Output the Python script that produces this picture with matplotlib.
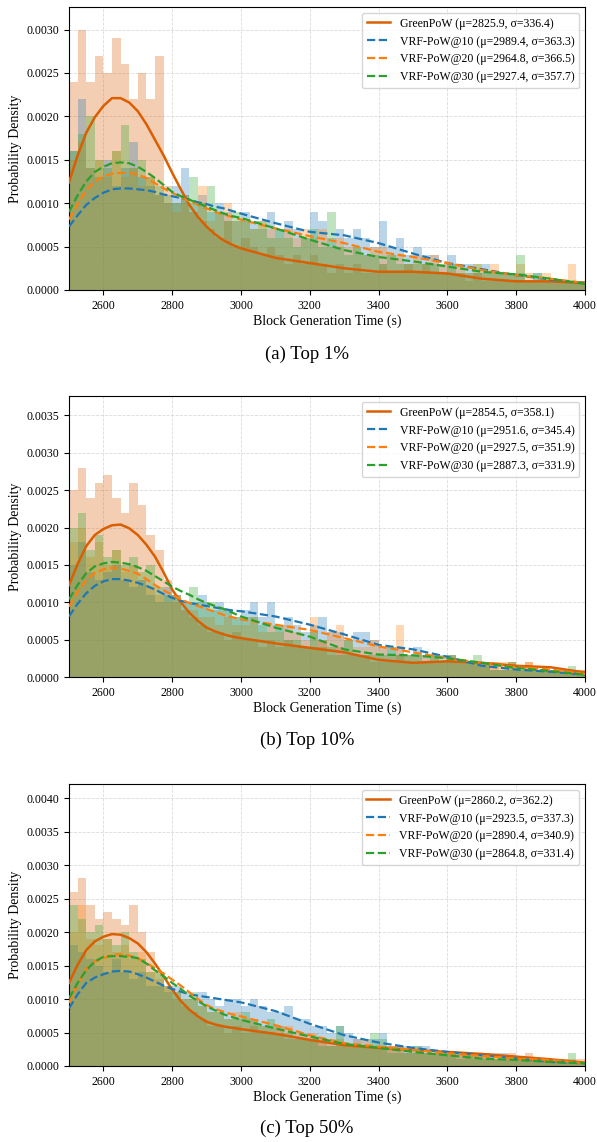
import matplotlib
matplotlib.use("Agg")
import matplotlib.pyplot as plt
import numpy as np

plt.rcParams["font.family"] = ["Liberation Serif", "DejaVu Serif"]
plt.rcParams["mathtext.fontset"] = "stix"

SERIES = ["GreenPoW", "VRF-PoW@10", "VRF-PoW@20", "VRF-PoW@30"]
COLORS = ["#d95f02", "#1f77b4", "#ff7f0e", "#2ca02c"]
CAPTIONS = ["(a) Top 1%", "(b) Top 10%", "(c) Top 50%"]

# histogram bins: 25 s wide, 2500..4000; heights in units of 1e-4
BIN_EDGES = list(range(2500, 4001, 25))

A_GREENPOW = [24, 30, 24, 27, 25, 29, 26, 22, 25, 22, 27,
              12, 10, 11, 9, 8, 7, 6, 8, 5,
              6, 5, 4, 5, 4, 3, 4, 3, 4, 3, 2, 3, 2, 3, 2, 2, 3, 2, 2, 3,
              2, 3, 2, 2, 2, 2, 1, 2, 1, 1, 1, 1, 1, 1, 1, 1, 1, 1, 1, 1]
A_VRF10 = [16, 22, 14, 13, 15, 12, 14, 17, 13, 12, 11,
           10, 12, 14, 10, 11, 9, 10, 9, 8,
           9, 8, 7, 9, 7, 8, 7, 6, 9, 8, 6, 7, 6, 7, 6, 5, 8, 5, 6, 4,
           5, 4, 4, 3, 4, 3, 3, 2, 3, 2, 2, 2, 2, 1, 2, 1, 1, 1, 1, 1]
A_VRF20 = [15, 17, 14, 15, 13, 16, 13, 14, 12, 13, 11,
           10, 9, 10, 9, 12, 8, 9, 10, 8,
           8, 7, 8, 7, 6, 7, 6, 7, 6, 7, 5, 6, 5, 5, 4, 5, 5, 4, 4, 3,
           4, 3, 4, 3, 3, 3, 2, 3, 2, 3, 2, 2, 3, 2, 1, 2, 1, 1, 3, 1]
A_VRF30 = [16, 18, 20, 15, 14, 16, 19, 14, 15, 13, 12,
           11, 10, 11, 13, 10, 12, 9, 8, 9,
           8, 7, 8, 6, 7, 6, 5, 6, 7, 5, 9, 5, 4, 5, 4, 4, 3, 4, 3, 3,
           3, 3, 3, 2, 3, 2, 2, 3, 2, 2, 2, 2, 4, 1, 2, 1, 1, 1, 1, 1]

B_GREENPOW = [25, 28, 24, 26, 27, 24, 22, 26, 23, 19, 17,
              13, 10, 9, 8, 7, 6, 6, 5, 6,
              5, 5, 4, 5, 4, 5, 4, 4, 4, 5, 3, 4, 3, 3, 3, 2, 2, 2, 3, 2,
              2, 2, 2, 2, 2, 2, 2, 2, 2, 2, 1, 2, 1, 2, 1, 1, 1, 1, 1, 1]
B_VRF10 = [15, 18, 14, 13, 14, 15, 13, 12, 13, 11, 10,
           12, 11, 10, 10, 11, 9, 10, 9, 8,
           9, 10, 8, 10, 7, 8, 7, 6, 7, 8, 6, 6, 5, 6, 6, 5, 4, 4, 4, 3,
           4, 3, 3, 3, 3, 2, 2, 2, 2, 1, 1, 1, 1, 1, 1, 1, 1, 0.5, 1, 0.5]
B_VRF20 = [18, 20, 16, 18, 15, 17, 14, 15, 13, 12, 11,
           10, 11, 9, 9, 8, 8, 7, 8, 7,
           7, 8, 6, 7, 6, 7, 6, 5, 8, 5, 6, 7, 5, 4, 4, 5, 4, 3, 7, 3,
           3, 3, 3, 2, 3, 2, 2, 2, 2, 2, 2, 2, 1, 2, 1, 1, 1, 1, 1, 1]
B_VRF30 = [20, 22, 17, 19, 16, 17, 15, 16, 14, 15, 12,
           11, 11, 10, 12, 10, 10, 9, 9, 8,
           8, 8, 7, 6, 7, 5, 5, 4, 6, 4, 4, 3, 5, 3, 3, 3, 3, 4, 3, 3,
           3, 2, 3, 2, 3, 2, 2, 3, 2, 1, 1, 2, 1, 1, 1, 1, 1, 0.5, 1.5, 0.5]

C_GREENPOW = [26, 28, 24, 22, 23, 22, 21, 24, 20, 17, 14,
              12, 10, 9, 8, 7, 6, 6, 5, 6,
              5, 6, 5, 5, 6, 4, 4, 4, 4, 4, 3, 3, 3, 4, 3, 3, 3, 3, 3, 2,
              2, 2, 2, 2, 2, 2, 2, 2, 2, 2, 1, 2, 1, 2, 1, 1, 1, 1, 1, 1]
C_VRF10 = [18, 17, 16, 15, 14, 16, 14, 13, 14, 12, 12,
           11, 12, 11, 10, 11, 10, 9, 10, 10,
           9, 10, 9, 8, 8, 9, 7, 7, 6, 6, 5, 6, 5, 4, 4, 4, 5, 3, 3, 3,
           3, 3, 2, 2, 2, 2, 2, 2, 2, 1, 2, 1, 1, 1, 1, 1, 1, 0.5, 0.5, 0.5]
C_VRF20 = [20, 24, 19, 18, 19, 17, 18, 16, 17, 14, 13,
           12, 11, 10, 10, 9, 8, 8, 7, 8,
           7, 7, 6, 6, 6, 6, 5, 5, 5, 4, 4, 4, 3, 3, 4, 3, 3, 3, 3, 2,
           2, 2, 2, 2, 2, 2, 2, 2, 2, 1, 1, 1, 1, 1, 1, 1, 1, 1, 0.5, 0.5]
C_VRF30 = [24, 22, 20, 21, 19, 18, 20, 17, 16, 14, 14,
           12, 11, 10, 11, 9, 8, 8, 7, 7,
           8, 7, 6, 7, 5, 5, 4, 4, 4, 3, 3, 6, 3, 3, 3, 5, 4, 2, 2, 2,
           3, 2, 2, 2, 2, 1, 2, 1, 1, 1, 1, 1, 1, 1, 1, 1, 1, 0.5, 2, 0.5]

# KDE curves (units of 1e-3): 25 s steps to 3000, then 100 s
KDE_X = [2500, 2525, 2550, 2575, 2600, 2625, 2650, 2675, 2700, 2725, 2750,
         2775, 2800, 2825, 2850, 2875, 2900, 2925, 2950, 2975, 3000,
         3100, 3200, 3300, 3400, 3500, 3600, 3700, 3800, 3900, 4000]

A_KDE_GREENPOW = [1.24, 1.55, 1.81, 1.99, 2.12, 2.21, 2.21, 2.16, 2.06, 1.91, 1.73,
                  1.55, 1.35, 1.16, 0.98, 0.84, 0.73, 0.64, 0.57, 0.52, 0.48,
                  0.37, 0.31, 0.25, 0.21, 0.21, 0.19, 0.13, 0.10, 0.10, 0.08]
A_KDE_VRF10 = [0.73, 0.86, 0.98, 1.06, 1.12, 1.16, 1.17, 1.17, 1.16, 1.15, 1.13,
               1.10, 1.08, 1.06, 1.04, 1.01, 0.99, 0.96, 0.94, 0.91, 0.88,
               0.77, 0.67, 0.63, 0.54, 0.42, 0.31, 0.24, 0.17, 0.12, 0.08]
A_KDE_VRF20 = [0.81, 0.99, 1.15, 1.25, 1.31, 1.34, 1.35, 1.35, 1.33, 1.29, 1.23,
               1.17, 1.12, 1.07, 1.02, 0.98, 0.94, 0.90, 0.87, 0.84, 0.81,
               0.71, 0.62, 0.54, 0.44, 0.38, 0.31, 0.23, 0.17, 0.13, 0.08]
A_KDE_VRF30 = [0.90, 1.09, 1.25, 1.36, 1.42, 1.46, 1.47, 1.46, 1.42, 1.36, 1.29,
               1.21, 1.13, 1.08, 1.04, 1.00, 0.96, 0.92, 0.88, 0.85, 0.83,
               0.71, 0.58, 0.46, 0.38, 0.33, 0.27, 0.21, 0.18, 0.13, 0.07]

B_KDE_GREENPOW = [1.23, 1.51, 1.75, 1.90, 1.98, 2.03, 2.04, 1.99, 1.90, 1.77, 1.61,
                  1.40, 1.17, 1.00, 0.86, 0.75, 0.66, 0.61, 0.57, 0.54, 0.52,
                  0.45, 0.39, 0.33, 0.23, 0.19, 0.21, 0.19, 0.15, 0.13, 0.06]
B_KDE_VRF10 = [0.81, 0.98, 1.12, 1.22, 1.28, 1.31, 1.31, 1.29, 1.26, 1.22, 1.17,
               1.11, 1.06, 1.02, 0.99, 0.97, 0.95, 0.93, 0.91, 0.89, 0.88,
               0.81, 0.70, 0.57, 0.43, 0.37, 0.27, 0.15, 0.10, 0.07, 0.03]
B_KDE_VRF20 = [0.94, 1.14, 1.30, 1.39, 1.44, 1.46, 1.45, 1.42, 1.38, 1.31, 1.23,
               1.16, 1.10, 1.04, 0.99, 0.95, 0.91, 0.87, 0.83, 0.80, 0.77,
               0.70, 0.63, 0.52, 0.41, 0.33, 0.25, 0.19, 0.13, 0.10, 0.04]
B_KDE_VRF30 = [1.04, 1.23, 1.39, 1.48, 1.52, 1.54, 1.53, 1.51, 1.47, 1.42, 1.35,
               1.28, 1.21, 1.15, 1.10, 1.04, 0.99, 0.95, 0.91, 0.86, 0.81,
               0.66, 0.54, 0.37, 0.30, 0.29, 0.25, 0.19, 0.12, 0.08, 0.03]

C_KDE_GREENPOW = [1.24, 1.51, 1.73, 1.86, 1.93, 1.97, 1.96, 1.91, 1.83, 1.70, 1.53,
                  1.34, 1.14, 0.97, 0.84, 0.74, 0.66, 0.62, 0.59, 0.57, 0.55,
                  0.48, 0.39, 0.31, 0.27, 0.24, 0.21, 0.18, 0.14, 0.10, 0.05]
C_KDE_VRF10 = [0.86, 1.07, 1.24, 1.32, 1.37, 1.41, 1.42, 1.41, 1.37, 1.32, 1.26,
               1.20, 1.15, 1.11, 1.07, 1.05, 1.03, 1.01, 0.99, 0.97, 0.95,
               0.82, 0.63, 0.46, 0.35, 0.27, 0.21, 0.16, 0.11, 0.06, 0.04]
C_KDE_VRF20 = [0.94, 1.22, 1.45, 1.56, 1.61, 1.66, 1.67, 1.65, 1.61, 1.54, 1.46,
               1.38, 1.29, 1.20, 1.10, 1.00, 0.91, 0.85, 0.81, 0.77, 0.74,
               0.61, 0.46, 0.34, 0.29, 0.24, 0.19, 0.15, 0.11, 0.09, 0.04]
C_KDE_VRF30 = [1.01, 1.24, 1.43, 1.56, 1.63, 1.64, 1.64, 1.63, 1.61, 1.53, 1.43,
               1.34, 1.24, 1.15, 1.05, 0.97, 0.89, 0.83, 0.77, 0.73, 0.69,
               0.56, 0.44, 0.33, 0.27, 0.21, 0.16, 0.11, 0.09, 0.06, 0.04]

# (mean, std) shown in the legends
A_STATS = [(2825.9, 336.4), (2989.4, 363.3), (2964.8, 366.5), (2927.4, 357.7)]
B_STATS = [(2854.5, 358.1), (2951.6, 345.4), (2927.5, 351.9), (2887.3, 331.9)]
C_STATS = [(2860.2, 362.2), (2923.5, 337.3), (2890.4, 340.9), (2864.8, 331.4)]

Y_MAX = [0.00326, 0.00376, 0.00421]
Y_TICK_TOP = [0.0030, 0.0035, 0.0040]

PANELS = [
    ([A_GREENPOW, A_VRF10, A_VRF20, A_VRF30],
     [A_KDE_GREENPOW, A_KDE_VRF10, A_KDE_VRF20, A_KDE_VRF30], A_STATS),
    ([B_GREENPOW, B_VRF10, B_VRF20, B_VRF30],
     [B_KDE_GREENPOW, B_KDE_VRF10, B_KDE_VRF20, B_KDE_VRF30], B_STATS),
    ([C_GREENPOW, C_VRF10, C_VRF20, C_VRF30],
     [C_KDE_GREENPOW, C_KDE_VRF10, C_KDE_VRF20, C_KDE_VRF30], C_STATS),
]

W, H = 597, 1142
# axes boxes in pixels: (left, top, right, bottom)
AX_BOXES = [(69, 7, 585, 290), (69, 396, 585, 677), (69, 784, 585, 1066)]
CAPTION_Y = [354, 740, 1128]


def draw_panel(ax, hists, kdes, stats, ymax, ytop):
    edges = np.array(BIN_EDGES)
    for h, c in zip(hists, COLORS):
        ax.bar(edges[:-1], np.array(h) * 1e-4, width=np.diff(edges), align="edge",
               color=c, alpha=0.3, linewidth=0, zorder=2)
    for i, (k, c, name, (mu, sd)) in enumerate(zip(kdes, COLORS, SERIES, stats)):
        ls = "-" if i == 0 else "--"
        lw = 1.8 if i == 0 else 1.6
        ax.plot(KDE_X, np.array(k) * 1e-3, ls, color=c, lw=lw, zorder=3,
                label=f"{name} (μ={mu:.1f}, σ={sd:.1f})")
    ax.set_xlim(2500, 4000)
    ax.set_ylim(0, ymax)
    ax.set_xticks(range(2600, 4001, 200))
    ax.set_yticks(np.arange(0, ytop + 1e-9, 0.0005))
    ax.yaxis.set_major_formatter(matplotlib.ticker.FormatStrFormatter("%.4f"))
    ax.tick_params(labelsize=8.5)
    ax.grid(True, ls="--", lw=0.6, color="#cccccc", alpha=0.7, zorder=0)
    ax.set_axisbelow(True)
    ax.set_xlabel("Block Generation Time (s)", fontsize=10, labelpad=2)
    ax.set_ylabel("Probability Density", fontsize=10, labelpad=3)
    ax.legend(loc="upper right", fontsize=8.5)


fig = plt.figure(figsize=(W / 100, H / 100), dpi=100)
for (hists, kdes, stats), box, ymax, ytop, cap, cy in zip(
        PANELS, AX_BOXES, Y_MAX, Y_TICK_TOP, CAPTIONS, CAPTION_Y):
    l, t, r, b = box
    ax = fig.add_axes([l / W, 1 - b / H, (r - l) / W, (b - t) / H])
    draw_panel(ax, hists, kdes, stats, ymax, ytop)
    fig.text(307 / W, 1 - cy / H, cap, ha="center", va="center", fontsize=13.5)

fig.savefig("out.png", dpi=100)
